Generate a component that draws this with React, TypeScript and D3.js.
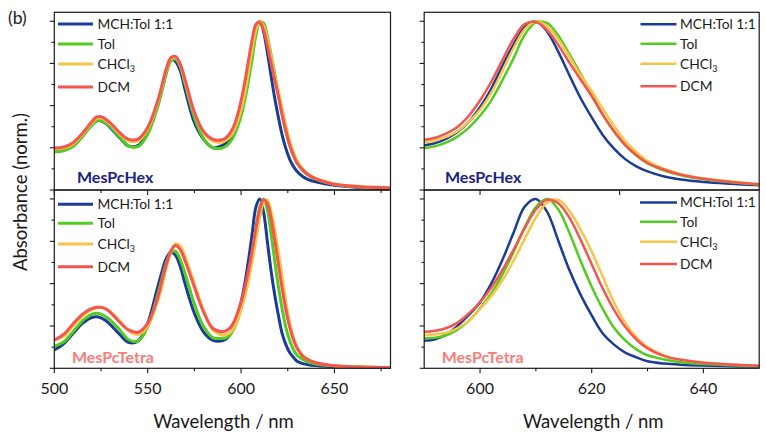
import React from "react";
import * as d3 from "d3";

// ---------------- data ----------------
const wavelengths = [
  500, 505, 510, 515, 517.5, 520, 522.5, 525, 527.5, 530, 535, 540, 545, 550, 555, 557.5, 560, 562.5, 565, 567.5, 570,
  575, 580, 585, 590,
  592, 594, 596, 598, 600, 602, 604, 606, 608, 610, 612, 614, 616, 618, 620, 622, 624, 626, 628, 630,
  633, 636, 640, 645, 650, 660, 670, 680,
];

// MesPcHex
const hexMCH = [
  0.235, 0.24, 0.265, 0.32, 0.355, 0.385, 0.41, 0.41, 0.395, 0.37, 0.31, 0.26, 0.265, 0.34, 0.49, 0.59, 0.7, 0.775, 0.76, 0.705, 0.595,
  0.4, 0.3, 0.25, 0.265,
  0.278, 0.305, 0.345, 0.405, 0.49, 0.6, 0.735, 0.862, 0.965, 1.0, 0.94, 0.82, 0.68, 0.545, 0.43, 0.325, 0.245, 0.183, 0.14, 0.11,
  0.08, 0.062, 0.048, 0.037, 0.028, 0.018, 0.012, 0.009,
];
const hexTol = [
  0.225, 0.232, 0.258, 0.315, 0.35, 0.382, 0.408, 0.412, 0.398, 0.375, 0.315, 0.26, 0.258, 0.33, 0.48, 0.58, 0.69, 0.765, 0.775, 0.73, 0.63,
  0.43, 0.305, 0.25, 0.249,
  0.26, 0.282, 0.318, 0.37, 0.44, 0.53, 0.65, 0.78, 0.92, 0.993, 0.99, 0.915, 0.805, 0.69, 0.57, 0.445, 0.345, 0.265, 0.205, 0.158,
  0.115, 0.087, 0.064, 0.046, 0.032, 0.02, 0.014, 0.01,
];
const hexCHCl3 = [
  0.242, 0.248, 0.273, 0.328, 0.363, 0.397, 0.424, 0.427, 0.412, 0.39, 0.333, 0.29, 0.293, 0.36, 0.505, 0.605, 0.712, 0.778, 0.785, 0.74, 0.645,
  0.455, 0.338, 0.29, 0.285,
  0.295, 0.315, 0.35, 0.405, 0.475, 0.575, 0.705, 0.84, 0.952, 1.0, 0.972, 0.895, 0.79, 0.68, 0.585, 0.48, 0.38, 0.29, 0.225, 0.172,
  0.125, 0.094, 0.069, 0.05, 0.036, 0.023, 0.017, 0.013,
];
const hexDCM = [
  0.249, 0.255, 0.28, 0.335, 0.37, 0.405, 0.432, 0.434, 0.42, 0.398, 0.34, 0.3, 0.303, 0.37, 0.515, 0.615, 0.72, 0.785, 0.79, 0.745, 0.655,
  0.46, 0.345, 0.3, 0.298,
  0.31, 0.335, 0.375, 0.44, 0.53, 0.64, 0.77, 0.895, 0.983, 0.995, 0.948, 0.86, 0.755, 0.655, 0.555, 0.445, 0.35, 0.268, 0.207, 0.16,
  0.12, 0.09, 0.066, 0.048, 0.034, 0.022, 0.016, 0.012,
];

// MesPcTetra
const tetraMCH = [
  0.108, 0.145, 0.205, 0.265, 0.285, 0.3, 0.305, 0.298, 0.282, 0.258, 0.2, 0.152, 0.163, 0.265, 0.465, 0.565, 0.65, 0.687, 0.665, 0.6, 0.5,
  0.325, 0.213, 0.165, 0.163,
  0.172, 0.2, 0.252, 0.315, 0.39, 0.5, 0.64, 0.8, 0.955, 1.0, 0.925, 0.755, 0.58, 0.435, 0.312, 0.205, 0.14, 0.093, 0.065, 0.042,
  0.028, 0.021, 0.016, 0.012, 0.01, 0.006, 0.004, 0.003,
];
const tetraTol = [
  0.13, 0.155, 0.215, 0.28, 0.302, 0.318, 0.325, 0.32, 0.305, 0.285, 0.228, 0.167, 0.162, 0.245, 0.42, 0.525, 0.625, 0.685, 0.69, 0.64, 0.56,
  0.38, 0.245, 0.18, 0.177,
  0.18, 0.195, 0.23, 0.28, 0.355, 0.442, 0.553, 0.687, 0.832, 0.952, 1.0, 0.94, 0.8, 0.635, 0.482, 0.35, 0.24, 0.165, 0.112, 0.077,
  0.052, 0.036, 0.025, 0.018, 0.014, 0.009, 0.006, 0.005,
];
const tetraCHCl3 = [
  0.167, 0.19, 0.25, 0.308, 0.33, 0.346, 0.356, 0.36, 0.353, 0.335, 0.28, 0.22, 0.2, 0.25, 0.385, 0.48, 0.595, 0.69, 0.735, 0.72, 0.66,
  0.5, 0.34, 0.225, 0.197,
  0.2, 0.21, 0.238, 0.28, 0.35, 0.426, 0.52, 0.635, 0.764, 0.889, 0.978, 0.995, 0.93, 0.82, 0.69, 0.54, 0.39, 0.27, 0.185, 0.125,
  0.075, 0.05, 0.034, 0.022, 0.015, 0.009, 0.006, 0.005,
];
const tetraDCM = [
  0.167, 0.2, 0.262, 0.318, 0.338, 0.352, 0.36, 0.36, 0.35, 0.33, 0.272, 0.225, 0.213, 0.265, 0.405, 0.51, 0.615, 0.695, 0.725, 0.7, 0.635,
  0.48, 0.33, 0.235, 0.216,
  0.222, 0.238, 0.27, 0.324, 0.39, 0.476, 0.58, 0.7, 0.828, 0.938, 0.996, 0.975, 0.89, 0.76, 0.615, 0.47, 0.345, 0.245, 0.17, 0.118,
  0.072, 0.05, 0.033, 0.022, 0.015, 0.009, 0.006, 0.005,
];

const solventLabels = ["MCH:Tol 1:1", "Tol", "CHCl3", "DCM"];
const seriesColors = ["#1b3c96", "#52cc1e", "#f6c54a", "#f5554f"];
const compoundLabels = ["MesPcHex", "MesPcTetra"];
const compoundColors = ["#1a2286", "#f77d7b"];

const leftMajorTicks = [500, 550, 600, 650];
const leftMinorTicks = [525, 575, 625, 675];
const rightMajorTicks = [600, 620, 640];
const rightMinorTicks = [610, 630];
const rightTopTicks = [600, 625];
const yMajorTicks = [0, 0.25, 0.5, 0.75, 1];
const yMinorTicks = [0.125, 0.375, 0.625, 0.875];

// ---------------- layout ----------------
const FONT = "Lato, 'Open Sans', sans-serif";
const INK = "#1a1a1a";

type PanelDef = {
  id: string;
  left: number;
  right: number;
  top: number;
  bottom: number;
  domain: [number, number];
  series: number[][];
  compound: number;
  wide: boolean;
  bottomAxis: boolean;
  legendX: [number, number, number];
  legendY: number[];
  labelPos: [number, number];
  xMajor: number[];
  xMinor: number[];
};

const hexSeries = [hexMCH, hexTol, hexCHCl3, hexDCM];
const tetraSeries = [tetraMCH, tetraTol, tetraCHCl3, tetraDCM];

const panels: PanelDef[] = [
  {
    id: "tl", left: 54.3, right: 390.5, top: 12.3, bottom: 190, domain: [500, 680],
    series: hexSeries, compound: 0, wide: true, bottomAxis: false,
    legendX: [58, 93, 97.5], legendY: [24, 44, 64, 87],
    labelPos: [77, 183], xMajor: leftMajorTicks, xMinor: leftMinorTicks,
  },
  {
    id: "bl", left: 54.3, right: 390.5, top: 190, bottom: 368.3, domain: [500, 680],
    series: tetraSeries, compound: 1, wide: true, bottomAxis: true,
    legendX: [58, 93, 97.5], legendY: [204.3, 223.3, 244, 266.7],
    labelPos: [72, 362.5], xMajor: leftMajorTicks, xMinor: leftMinorTicks,
  },
  {
    id: "tr", left: 424.2, right: 759.2, top: 12.3, bottom: 190, domain: [590, 650],
    series: hexSeries, compound: 0, wide: false, bottomAxis: false,
    legendX: [640.5, 676.5, 680], legendY: [24.3, 43.7, 63.7, 86.3],
    labelPos: [445, 182.7], xMajor: rightTopTicks, xMinor: [],
  },
  {
    id: "br", left: 424.2, right: 759.2, top: 190, bottom: 368.3, domain: [590, 650],
    series: tetraSeries, compound: 1, wide: false, bottomAxis: true,
    legendX: [640, 677, 680], legendY: [202.5, 221.7, 241.7, 264],
    labelPos: [441.7, 362.5], xMajor: rightMajorTicks, xMinor: rightMinorTicks,
  },
];

function Legend({ p }: { p: PanelDef }) {
  const sw = p.wide ? 3 : 2.5;
  return (
    <g>
      {solventLabels.map((lab, i) => {
        const y = p.legendY[i];
        return (
          <g key={lab}>
            <line x1={p.legendX[0]} x2={p.legendX[1]} y1={y} y2={y} stroke={seriesColors[i]} strokeWidth={sw} />
            <text x={p.legendX[2]} y={y + 4.8} fontFamily={FONT} fontSize={13.8} fill={INK}>
              {lab === "CHCl3" ? (
                <>
                  CHCl<tspan fontSize={9} dy={3}>3</tspan>
                </>
              ) : (
                lab
              )}
            </text>
          </g>
        );
      })}
    </g>
  );
}

function Panel({ p }: { p: PanelDef }) {
  const x = d3.scaleLinear().domain(p.domain).range([p.left, p.right]);
  const y = d3.scaleLinear().domain([0, 1.053]).range([p.bottom, p.top]);
  const line = d3
    .line<number>()
    .x((_, i) => x(wavelengths[i]))
    .y((d) => y(d))
    .curve(d3.curveCatmullRom.alpha(0.5));
  const sw = p.wide ? 3 : 2.5;
  const clipId = `clip-${p.id}`;
  return (
    <g>
      <defs>
        <clipPath id={clipId}>
          <rect x={p.left} y={p.top} width={p.right - p.left} height={p.bottom - p.top} />
        </clipPath>
      </defs>
      <g clipPath={`url(#${clipId})`}>
        {p.series.map((s, i) => (
          <path key={i} d={line(s) || ""} fill="none" stroke={seriesColors[i]} strokeWidth={sw} strokeLinejoin="round" />
        ))}
      </g>
      <rect x={p.left} y={p.top} width={p.right - p.left} height={p.bottom - p.top} fill="none" stroke={INK} strokeWidth={1.2} />
      {yMajorTicks.map((t) => (
        <line key={`ym${t}`} x1={p.left - 4.5} x2={p.left} y1={y(t)} y2={y(t)} stroke={INK} strokeWidth={1.1} />
      ))}
      {yMinorTicks.map((t) => (
        <line key={`yn${t}`} x1={p.left - 2.8} x2={p.left} y1={y(t)} y2={y(t)} stroke={INK} strokeWidth={1.1} />
      ))}
      {p.xMajor.map((t) => (
        <line key={`xm${t}`} x1={x(t)} x2={x(t)} y1={p.bottom} y2={p.bottom + 5} stroke={INK} strokeWidth={1.1} />
      ))}
      {p.xMinor.map((t) => (
        <line key={`xn${t}`} x1={x(t)} x2={x(t)} y1={p.bottom} y2={p.bottom + 3} stroke={INK} strokeWidth={1.1} />
      ))}
      {p.bottomAxis &&
        p.xMajor.map((t) => (
          <text key={`xl${t}`} x={x(t)} y={394} textAnchor="middle" fontFamily={FONT} fontSize={16} fill={INK}>
            {t}
          </text>
        ))}
      <Legend p={p} />
      <text
        x={p.labelPos[0]}
        y={p.labelPos[1]}
        fontFamily={FONT}
        fontWeight="bold"
        fontSize={16}
        fill={compoundColors[p.compound]}
      >
        {compoundLabels[p.compound]}
      </text>
    </g>
  );
}

export default function App() {
  return (
    <svg
      width={766}
      height={432}
      viewBox="0 0 766 432"
      style={{ position: "absolute", left: 0, top: 0, background: "#fff" }}
    >
      <rect x={0} y={0} width={766} height={432} fill="#fff" />
      {panels.map((p) => (
        <Panel key={p.id} p={p} />
      ))}
      <text x={8} y={23.5} fontFamily={FONT} fontSize={17.5} fill={INK}>
        (b)
      </text>
      <text
        transform="translate(27,192) rotate(-90)"
        textAnchor="middle"
        fontFamily={FONT}
        fontSize={18.5}
        fill={INK}
      >
        Absorbance (norm.)
      </text>
      <text x={223.5} y={427.5} textAnchor="middle" fontFamily={FONT} fontSize={18.5} fill={INK}>
        Wavelength / nm
      </text>
      <text x={593.3} y={427.5} textAnchor="middle" fontFamily={FONT} fontSize={18.5} fill={INK}>
        Wavelength / nm
      </text>
    </svg>
  );
}
